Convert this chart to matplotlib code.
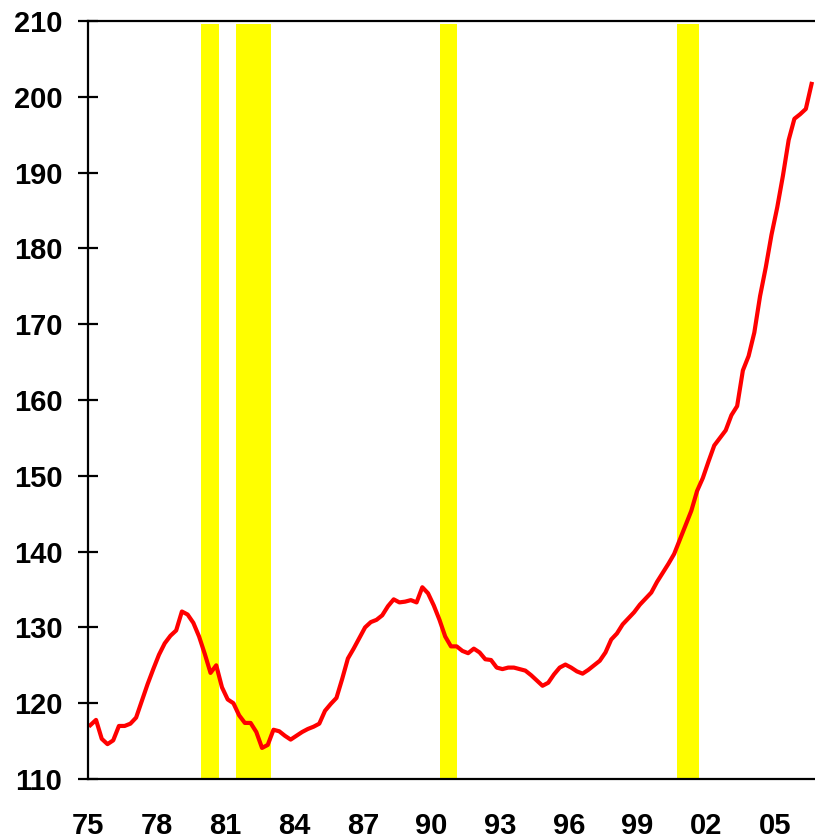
import matplotlib
matplotlib.use("Agg")
import matplotlib.pyplot as plt
import numpy as np

plt.rcParams["font.family"] = ["Liberation Sans", "DejaVu Sans"]

# quarterly index values (1975Q1 onwards)
values = [
    117.1, 117.8, 115.3, 114.6, 115.1, 117.0, 117.0, 117.3, 118.1, 120.3,
    122.5, 124.5, 126.4, 127.9, 128.9, 129.6, 132.1, 131.7, 130.6, 128.8,
    126.5, 124.0, 125.0, 122.1, 120.5, 120.0, 118.4, 117.4, 117.4, 116.2,
    114.1, 114.5, 116.5, 116.3, 115.7, 115.2, 115.7, 116.2, 116.6, 116.9,
    117.3, 119.0, 119.9, 120.7, 123.2, 125.9, 127.2, 128.6, 130.0, 130.7,
    131.0, 131.6, 132.8, 133.7, 133.3, 133.4, 133.6, 133.3, 135.3, 134.5,
    132.9, 131.0, 128.8, 127.5, 127.5, 126.9, 126.6, 127.2, 126.7, 125.8,
    125.7, 124.7, 124.5, 124.7, 124.7, 124.5, 124.3, 123.7, 123.0, 122.3,
    122.7, 123.8, 124.7, 125.1, 124.7, 124.2, 123.9, 124.4, 125.0, 125.6,
    126.7, 128.4, 129.2, 130.4, 131.2, 132.0, 133.0, 133.8, 134.6, 136.0,
    137.2, 138.4, 139.7, 141.6, 143.5, 145.4, 148.0, 149.7, 151.9, 154.0,
    155.0, 156.0, 158.0, 159.2, 163.9, 165.8, 168.9, 173.7, 177.5, 181.8,
    185.4, 189.6, 194.3, 197.1, 197.7, 198.4, 201.7,
]
years = 1975.1 + 0.25 * np.arange(len(values))

# recessions (start, end) in decimal years
rec_start = [1979.93, 1981.46, 1990.37, 2000.72]
rec_end = [1980.72, 1982.99, 1991.11, 2001.68]

xtick_pos = [1975, 1978, 1981, 1984, 1987, 1990, 1993, 1996, 1999, 2002, 2005]
xtick_lab = ["75", "78", "81", "84", "87", "90", "93", "96", "99", "02", "05"]
yticks = list(range(110, 211, 10))

fig = plt.figure(figsize=(8.15, 8.4), dpi=100)
ax = fig.add_axes([0.108, 0.0726, 0.892, 0.9024])

for s, e in zip(rec_start, rec_end):
    ax.axvspan(s, e, ymin=0, ymax=0.996, color="#ffff00", lw=0, zorder=1)

ax.plot(years, values, color="#ff0000", lw=3, zorder=3, solid_joinstyle="round")

ax.set_xlim(1975, 2006.75)
ax.set_ylim(110, 210)
ax.set_xticks(xtick_pos)
ax.set_xticklabels(xtick_lab)
ax.set_yticks(yticks)

ax.spines["right"].set_visible(False)
for sp in ["left", "top", "bottom"]:
    ax.spines[sp].set_linewidth(1.6)
    ax.spines[sp].set_zorder(4)

ax.tick_params(axis="x", length=0, pad=24, labelsize=21)
ax.tick_params(axis="y", direction="inout", length=15, width=1.6, pad=11, labelsize=21)
for lab in ax.get_xticklabels() + ax.get_yticklabels():
    lab.set_fontweight("bold")

fig.savefig("out.png", dpi=100)
